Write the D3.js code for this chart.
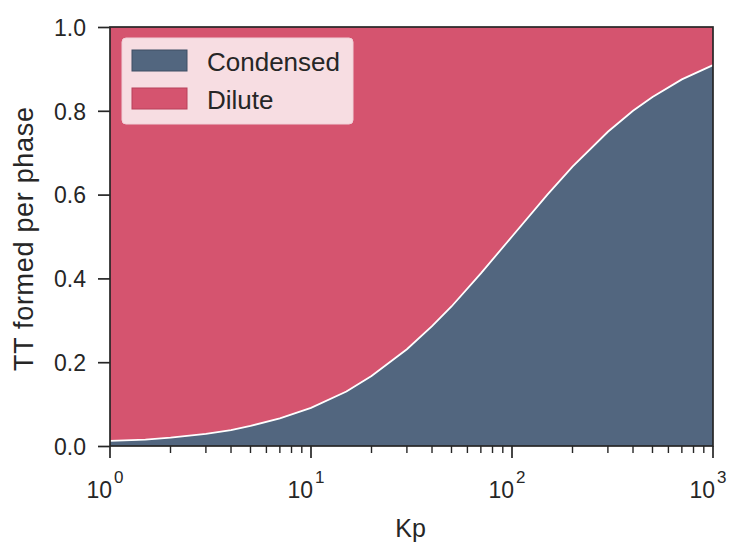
<!DOCTYPE html>
<html>
<head>
<meta charset="utf-8">
<script src="https://cdn.jsdelivr.net/npm/d3@7"></script>
<style>
  html, body { margin: 0; padding: 0; background: #ffffff; }
  svg { display: block; }
  text { font-family: "Liberation Sans", Arial, sans-serif; fill: #262626; }
</style>
</head>
<body>
<svg id="chart" width="735" height="542"></svg>
<script>
// Kp sample points and fraction of TT formed in the condensed phase
const kp = [1, 1.5, 2, 3, 4, 5, 7, 10, 15, 20, 30, 40, 50, 70, 100, 150, 200, 300, 400, 500, 700, 1000];
const condensed = [0.012, 0.015, 0.020, 0.029, 0.038, 0.048, 0.066, 0.091, 0.130, 0.167, 0.231, 0.286, 0.333, 0.412, 0.500, 0.600, 0.667, 0.750, 0.800, 0.833, 0.875, 0.909];
// dilute phase takes the remainder
const dilute = condensed.map(c => +(1 - c).toFixed(3));
const seriesNames = ["Condensed", "Dilute"];
const seriesColors = ["#52667f", "#d5546f"];
const yTicks = [0.0, 0.2, 0.4, 0.6, 0.8, 1.0];
const xMajor = [1, 10, 100, 1000];
const xExponents = ["0", "1", "2", "3"];

const svg = d3.select("#chart");
const margin = { left: 110, right: 22, top: 27, bottom: 96 };
const W = 735, H = 542;
const FONT = '"Liberation Sans", Arial, sans-serif';

const x = d3.scaleLog().domain([1, 1000]).range([margin.left, W - margin.right]);
const y = d3.scaleLinear().domain([0, 1]).range([H - margin.bottom, margin.top]);

const rows = kp.map((k, i) => ({ kp: k, Condensed: condensed[i], Dilute: dilute[i] }));
const stacked = d3.stack().keys(seriesNames)(rows);

const area = d3.area()
  .x(d => x(d.data.kp))
  .y0(d => y(d[0]))
  .y1(d => y(d[1]));

const g = svg.append("g");
g.selectAll("path.layer")
  .data(stacked)
  .join("path")
  .attr("class", "layer")
  .attr("d", area)
  .attr("fill", (d, i) => seriesColors[i]);

// white edge between the two layers
g.append("path")
  .datum(stacked[0])
  .attr("d", d3.line().x(d => x(d.data.kp)).y(d => y(d[1])))
  .attr("fill", "none")
  .attr("stroke", "#ffffff")
  .attr("stroke-width", 1.8);

// frame
const axisColor = "#262626";
svg.append("rect")
  .attr("x", margin.left).attr("y", margin.top)
  .attr("width", W - margin.right - margin.left)
  .attr("height", H - margin.bottom - margin.top)
  .attr("fill", "none").attr("stroke", axisColor).attr("stroke-width", 1.7);

// y axis
const yAxis = d3.axisLeft(y).tickValues(yTicks).tickFormat(d3.format(".1f")).tickSize(12).tickPadding(12);
const yg = svg.append("g").attr("transform", `translate(${margin.left},0)`).call(yAxis);
yg.select(".domain").remove();
yg.selectAll("line").attr("stroke", axisColor).attr("stroke-width", 1.7);
yg.selectAll("text").attr("font-size", 23).attr("fill", "#262626").attr("dy", "0.36em")
  .attr("font-family", FONT);

// x axis: minor ticks
const minor = [];
for (let p = 0; p < 3; p++) for (let m = 2; m <= 9; m++) minor.push(m * Math.pow(10, p));
const xg = svg.append("g").attr("transform", `translate(0,${H - margin.bottom})`);
xg.selectAll("line.minor").data(minor).join("line")
  .attr("class", "minor")
  .attr("x1", d => x(d)).attr("x2", d => x(d))
  .attr("y1", 0).attr("y2", 7)
  .attr("stroke", axisColor).attr("stroke-width", 1.4);
xg.selectAll("line.major").data(xMajor).join("line")
  .attr("class", "major")
  .attr("x1", d => x(d)).attr("x2", d => x(d))
  .attr("y1", 0).attr("y2", 12)
  .attr("stroke", axisColor).attr("stroke-width", 1.7);

const lbl = xg.selectAll("text.major").data(xMajor).join("text")
  .attr("class", "major")
  .attr("x", d => x(d) - 5)
  .attr("y", 52)
  .attr("text-anchor", "middle")
  .attr("font-size", 23);
lbl.append("tspan").text("10");
lbl.append("tspan").text((d, i) => xExponents[i])
  .attr("font-size", 17).attr("dy", -15).attr("dx", 2);

// axis titles
svg.append("text")
  .attr("x", (margin.left + W - margin.right) / 2 - 1)
  .attr("y", 537)
  .attr("text-anchor", "middle")
  .attr("font-size", 25)
  .text("Kp");
svg.append("text")
  .attr("transform", `translate(33,239) rotate(-90)`)
  .attr("text-anchor", "middle")
  .attr("font-size", 27)
  .attr("textLength", 264)
  .text("TT formed per phase");

// legend
const lg = svg.append("g");
lg.append("rect")
  .attr("x", 122).attr("y", 38).attr("width", 231).attr("height", 86)
  .attr("rx", 4).attr("ry", 4)
  .attr("fill", "#ffffff").attr("fill-opacity", 0.8)
  .attr("stroke", "#f0d0d8").attr("stroke-width", 1);
seriesNames.forEach((name, i) => {
  const yy = 50 + i * 38;
  lg.append("rect")
    .attr("x", 132).attr("y", yy).attr("width", 55).attr("height", 21)
    .attr("fill", seriesColors[i])
    .attr("stroke", i === 0 ? "#3e4e64" : "#b8405a").attr("stroke-width", 1);
  lg.append("text")
    .attr("x", 207).attr("y", yy + 21)
    .attr("font-size", 26)
    .text(name);
});
</script>
</body>
</html>
